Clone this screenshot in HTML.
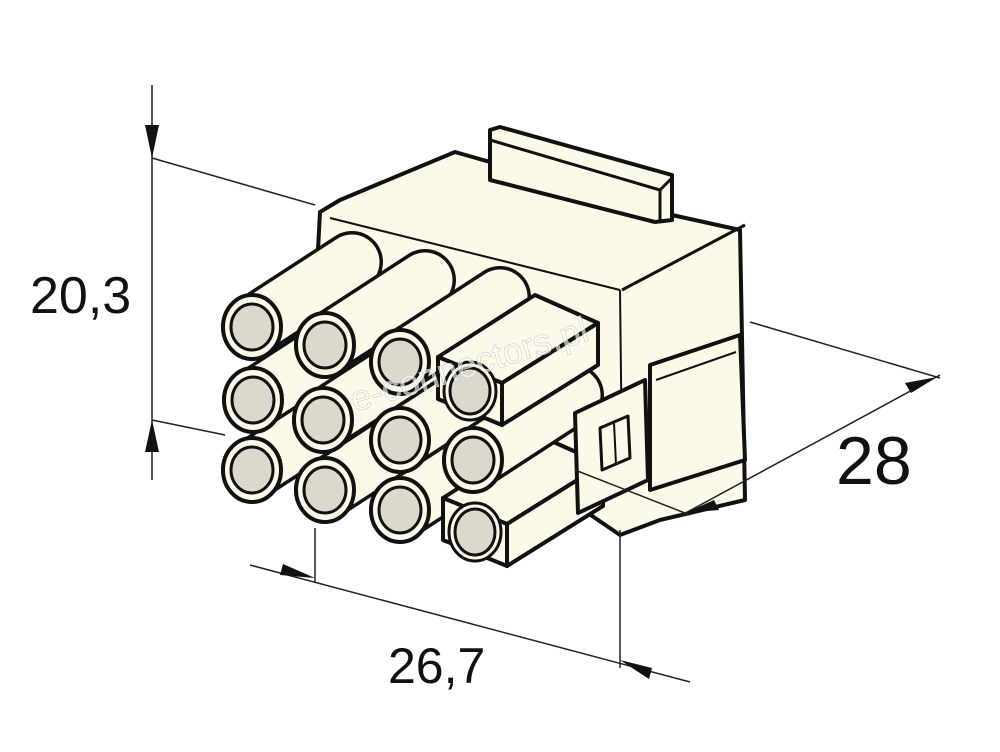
<!DOCTYPE html>
<html><head><style>html,body{margin:0;padding:0;background:#fff}svg{display:block}</style></head><body>
<svg width="1000" height="752" viewBox="0 0 1000 752" xmlns="http://www.w3.org/2000/svg">
<defs>
<g id="pin">
<line x1="0" y1="0" x2="100" y2="-65" stroke="#111" stroke-width="62" stroke-linecap="round"/>
<line x1="0" y1="0" x2="100" y2="-65" stroke="#fcf9e8" stroke-width="55" stroke-linecap="round"/>
<ellipse cx="0" cy="0" rx="29" ry="32" fill="#fcf9e8" stroke="#111" stroke-width="4"/>
<ellipse cx="0" cy="0" rx="21" ry="23" fill="#dcd8cc" stroke="#111" stroke-width="3"/>
</g>
<g id="box" fill="#fcf9e8" stroke="#111" stroke-width="4" stroke-linejoin="round">
<polygon points="-32,-30 65,-92 128,-64 32,-4"/>
<polygon points="32,-4 128,-64 128,-22 32,38"/>
<polygon points="-32,-30 32,-4 32,38 -32,12"/>
<ellipse cx="0" cy="4" rx="26" ry="29" stroke-width="3"/>
<ellipse cx="0" cy="4" rx="20" ry="23" fill="#dcd8cc" stroke-width="3"/>
</g>
</defs>
<g fill="#fcf9e8" stroke="#111" stroke-width="4" stroke-linejoin="round">
<polygon points="318,250 320,212 340,200 455,152 490,162 672,215 740,230 745,500 660,520 620,535 320,330"/>
<line x1="330" y1="218" x2="620" y2="290" stroke-width="2"/>
<line x1="620" y1="290" x2="622" y2="460" stroke-width="2"/>
<line x1="622" y1="290" x2="745" y2="225" stroke-width="3"/>
<polygon points="490,130 500,127 672,175 672,220 655,222 490,180"/>
<line x1="490" y1="140" x2="660" y2="190" stroke-width="3"/>
<line x1="660" y1="190" x2="672" y2="178" stroke-width="3"/>
<line x1="660" y1="190" x2="660" y2="220" stroke-width="3"/>
<polygon points="650,365 740,335 745,460 650,490"/>
<line x1="656" y1="380" x2="736" y2="352" stroke-width="2"/>
</g>
<use href="#pin" x="252" y="470"/><use href="#pin" x="325" y="490"/><use href="#pin" x="400" y="510"/><use href="#box" x="475" y="528"/>
<use href="#pin" x="253" y="400"/><use href="#pin" x="323" y="420"/><use href="#pin" x="400" y="440"/><use href="#pin" x="473" y="460"/>
<use href="#pin" x="252" y="327"/><use href="#pin" x="325" y="345"/><use href="#pin" x="400" y="362"/><use href="#box" x="470" y="387"/>
<g fill="#fcf9e8" stroke="#111" stroke-width="4" stroke-linejoin="round">
<polygon points="575,413 645,380 648,480 578,513"/>
<polygon points="600,428 628,416 630,458 602,470" stroke-width="3"/>
<line x1="614" y1="423" x2="616" y2="464" stroke-width="2"/>
</g>
<g stroke="#222" stroke-width="1.5" fill="none">
<line x1="152" y1="85" x2="152" y2="480"/>
<line x1="152" y1="158" x2="315" y2="205"/>
<line x1="152" y1="420" x2="225" y2="435"/>
<line x1="315" y1="528" x2="315" y2="582"/>
<line x1="620" y1="530" x2="620" y2="668"/>
<line x1="250" y1="565" x2="690" y2="682"/>
<line x1="750" y1="322" x2="940" y2="378"/>
<line x1="680" y1="516" x2="940" y2="375"/>
<line x1="575" y1="470" x2="690" y2="515"/>
</g>
<g fill="#111">
<polygon points="152,158 145,125 159,125"/>
<polygon points="152,420 145,452 159,452"/>
<polygon points="315,578 283,564 280,575"/>
<polygon points="620,660 652,668 649,679"/>
<polygon points="937,377 905,383 911,393"/>
<polygon points="685,513 714,500 719,510"/>
</g>
<text x="355" y="412" font-family="Liberation Sans, sans-serif" font-size="36" fill="#fff" fill-opacity="0.6" stroke="#ccc" stroke-width="0.6" transform="rotate(-17 355 412)">e-connectors.pl</text>
<g font-family="Liberation Sans, sans-serif" fill="#111">
<text x="30" y="313" font-size="52">20,3</text>
<text x="388" y="683" font-size="50">26,7</text>
<text x="836" y="484" font-size="68">28</text>
</g>
</svg>
</body></html>
